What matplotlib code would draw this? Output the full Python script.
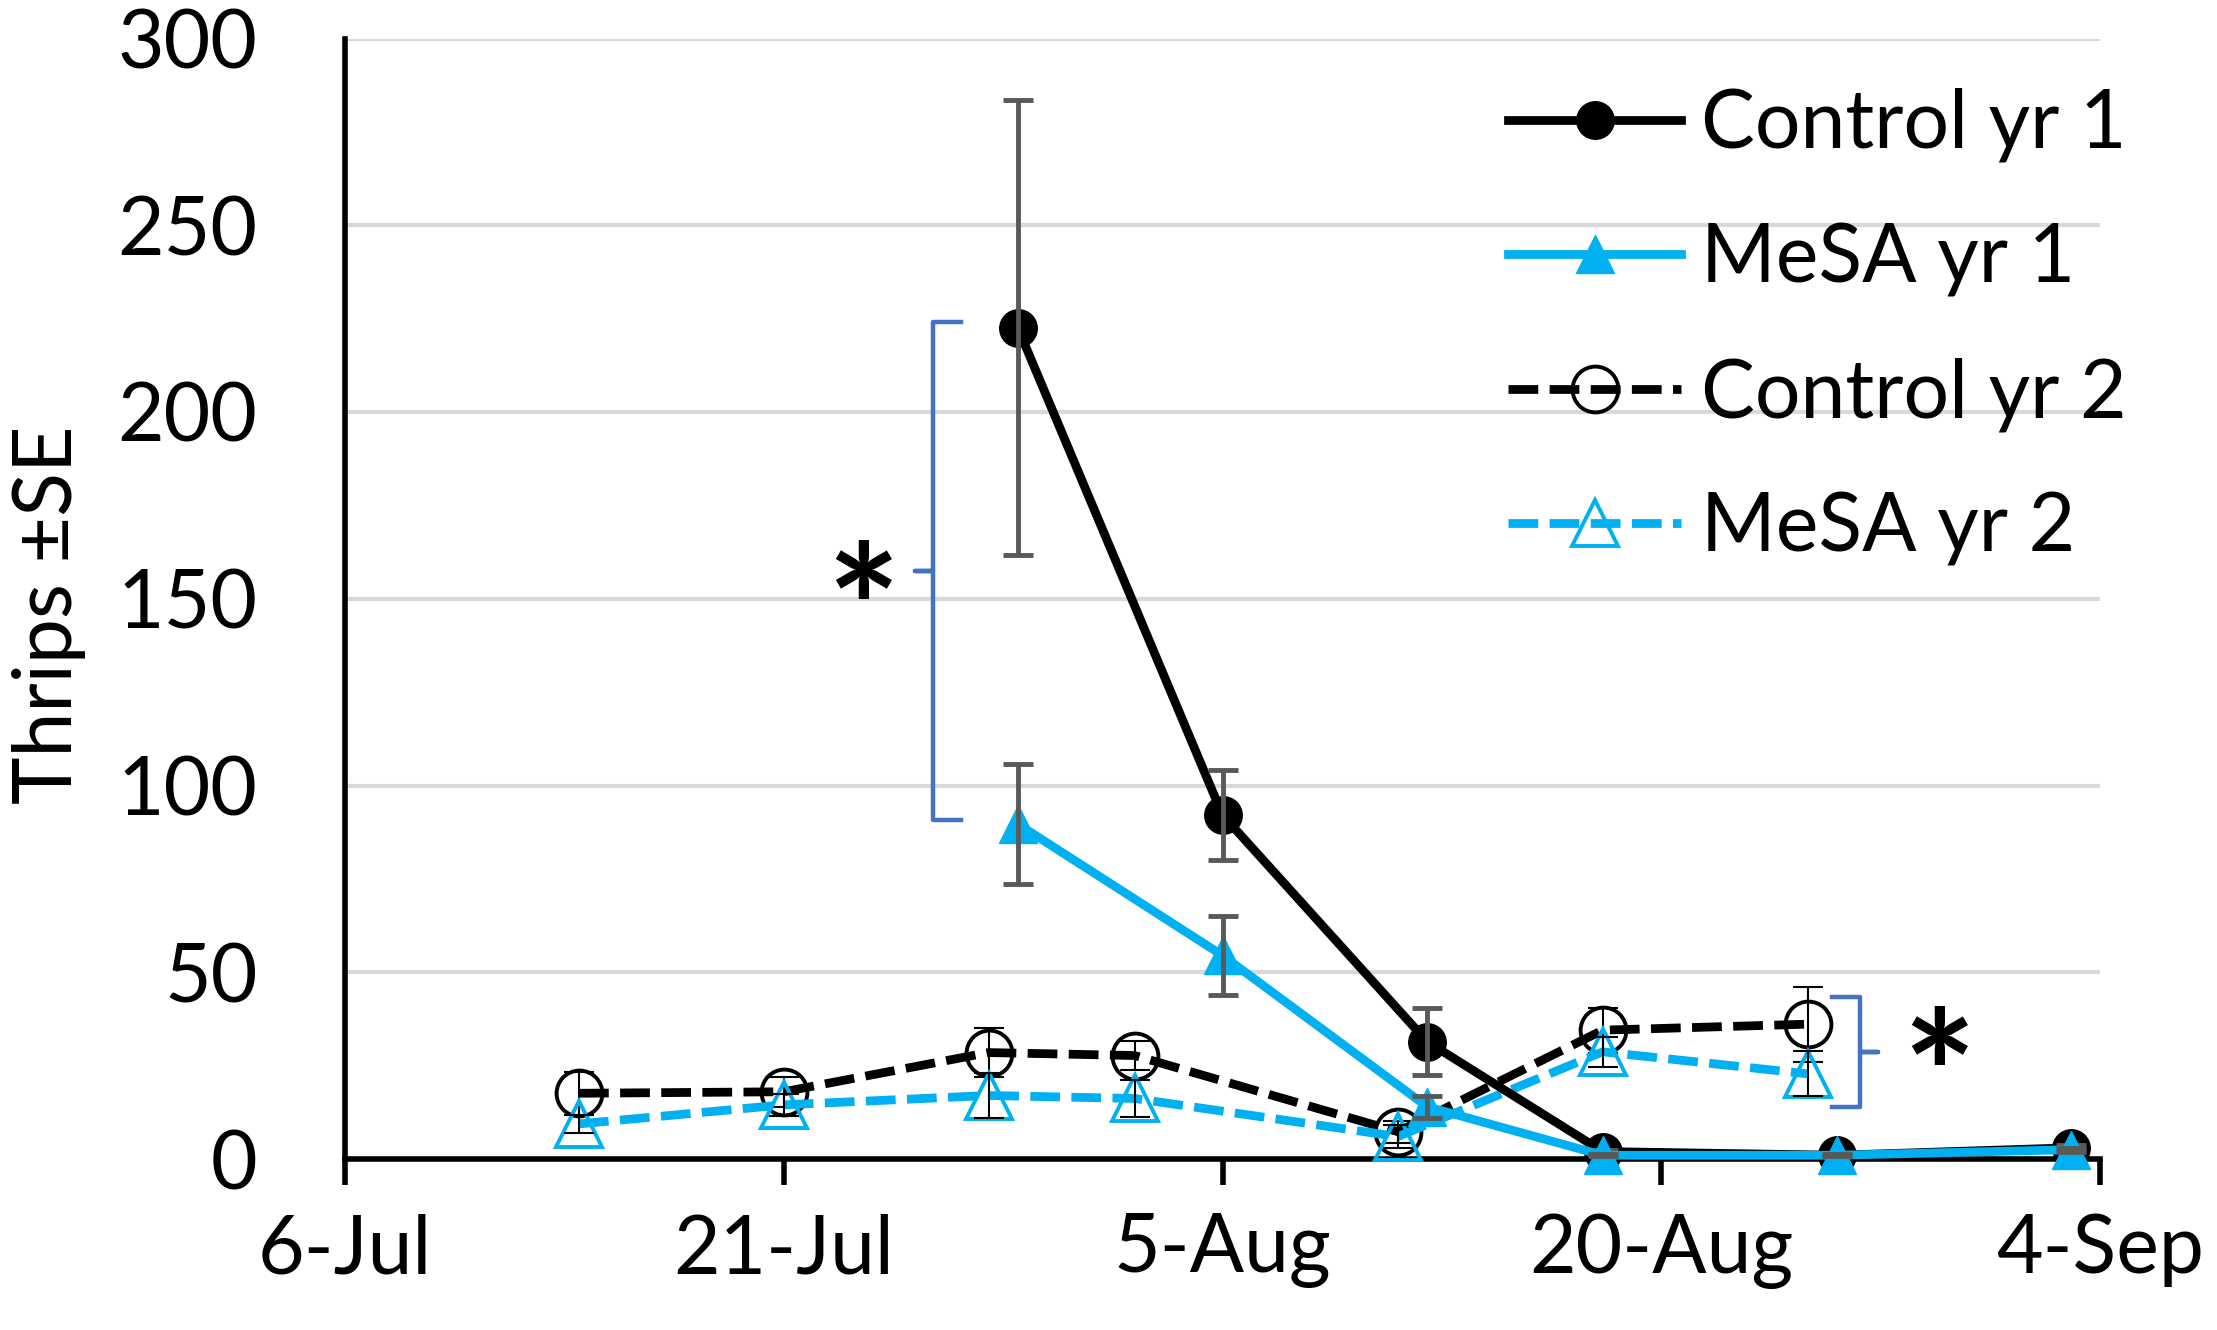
import numpy as np
import pandas as pd
import matplotlib
matplotlib.use("Agg")
import matplotlib.pyplot as plt
import matplotlib.dates as mdates

# sampling dates and thrips counts (mean and SE)
dates_yr1 = pd.to_datetime(["2019-07-29", "2019-08-05", "2019-08-12",
                            "2019-08-18", "2019-08-26", "2019-09-03"])
control_yr1 = [222.6, 92.1, 31.4, 2.0, 1.0, 3.0]
control_yr1_se = [61.0, 12.0, 9.0, 0.5, 0.3, 0.8]
mesa_yr1 = [89.7, 54.5, 14.0, 1.0, 1.0, 2.5]
mesa_yr1_se = [16.0, 10.5, 3.0, 0.3, 0.3, 0.5]

dates_yr2 = pd.to_datetime(["2019-07-14", "2019-07-21", "2019-07-28", "2019-08-02",
                            "2019-08-11", "2019-08-18", "2019-08-25"])
control_yr2 = [17.6, 18.0, 28.5, 27.7, 7.3, 34.5, 36.1]
control_yr2_se = [5.8, 4.0, 6.5, 4.0, 3.0, 6.0, 10.0]
mesa_yr2 = [9.4, 14.5, 17.0, 16.2, 6.0, 28.7, 22.8]
mesa_yr2_se = [2.5, 3.0, 6.0, 5.0, 3.0, 4.0, 6.0]

tick_dates = pd.to_datetime(["2019-07-06", "2019-07-21", "2019-08-05",
                             "2019-08-20", "2019-09-04"])
tick_labels = ["6-Jul", "21-Jul", "5-Aug", "20-Aug", "4-Sep"]
y_ticks = [0, 50, 100, 150, 200, 250, 300]

# significance brackets: days after 6-Jul, y span, side of the tip
bracket_days = [20.1, 51.8]
bracket_lo = [90.8, 14.0]
bracket_hi = [224.1, 43.4]
bracket_side = [-1, 1]
star_days = [17.7, 54.5]
star_y = [157.3, 32.5]

BLUE = "#00B0F0"
BRACKET = "#4472C4"
ERR_GREY = "#595959"
FONT = ["Lato", "DejaVu Sans"]
FS = 58

plt.rcParams["font.family"] = FONT
plt.rcParams["font.size"] = FS

fig = plt.figure(figsize=(22.17, 13.30), dpi=100)
ax = fig.add_axes([345 / 2217, 1 - 1159 / 1330, 1755 / 2217, 1120.5 / 1330])

lw = 6.3
dash = (3.4, 1.3)

# error bars
ax.errorbar(dates_yr2, control_yr2, yerr=control_yr2_se, fmt="none", ecolor="black",
            elinewidth=1.5, capsize=11, capthick=1.5, zorder=3.5, clip_on=False)
ax.errorbar(dates_yr2, mesa_yr2, yerr=mesa_yr2_se, fmt="none", ecolor="black",
            elinewidth=1.5, capsize=11, capthick=1.5, zorder=4.5, clip_on=False)
ax.errorbar(dates_yr1, control_yr1, yerr=control_yr1_se, fmt="none", ecolor=ERR_GREY,
            elinewidth=3.5, capsize=11, capthick=3.5, zorder=5.5, clip_on=False)
ax.errorbar(dates_yr1, mesa_yr1, yerr=mesa_yr1_se, fmt="none", ecolor=ERR_GREY,
            elinewidth=3.5, capsize=11, capthick=3.5, zorder=6.5, clip_on=False)

h_c2, = ax.plot(dates_yr2, control_yr2, color="black", lw=lw, dashes=dash,
                marker="o", ms=33, mfc="none", mec="black", mew=2.8,
                label="Control yr 2", zorder=3, clip_on=False)
h_m2, = ax.plot(dates_yr2, mesa_yr2, color=BLUE, lw=lw, dashes=dash,
                marker="^", ms=33, mfc="none", mec=BLUE, mew=2.8,
                label="MeSA yr 2", zorder=4, clip_on=False)
h_c1, = ax.plot(dates_yr1, control_yr1, color="black", lw=lw,
                marker="o", ms=27, mfc="black", mec="black",
                label="Control yr 1", zorder=5, clip_on=False)
h_m1, = ax.plot(dates_yr1, mesa_yr1, color=BLUE, lw=lw,
                marker="^", ms=27, mfc=BLUE, mec=BLUE,
                label="MeSA yr 1", zorder=6, clip_on=False)

x0 = mdates.date2num(tick_dates[0])
ax.set_xlim(x0, mdates.date2num(tick_dates[-1]))
ax.set_ylim(0, 300)
ax.set_xticks(mdates.date2num(tick_dates))
ax.set_xticklabels(tick_labels)
ax.set_yticks(y_ticks)

ax.grid(axis="y", color="#D9D9D9", lw=3)
ax.set_axisbelow(True)
for side in ["top", "right"]:
    ax.spines[side].set_visible(False)
for side in ["left", "bottom"]:
    ax.spines[side].set_linewidth(4)
ax.tick_params(axis="y", length=0, pad=63, labelsize=FS)
ax.tick_params(axis="x", direction="out", length=19, width=4, pad=20, labelsize=FS)

ax.set_ylabel("Thrips \u00b1SE", fontsize=FS)
ax.yaxis.label.set_verticalalignment("center")
ax.yaxis.set_label_coords(-0.1685, 0.4855)

# brackets with the stars
for d, lo, hi, side in zip(bracket_days, bracket_lo, bracket_hi, bracket_side):
    xv = x0 + d
    arm = 0.95 * -side
    tip = 0.6 * side
    mid = (lo + hi) / 2
    xs = [xv + arm, xv, xv, xv + tip, xv, xv, xv + arm]
    ys = [hi, hi, mid, mid, mid, lo, lo]
    ax.plot(xs, ys, color=BRACKET, lw=3.2, solid_joinstyle="round", zorder=2,
            clip_on=False)
for d, y in zip(star_days, star_y):
    ax.annotate("*", (x0 + d, y), xytext=(0, -36), textcoords="offset points",
                fontsize=125, fontweight="bold", ha="center", va="center", zorder=7)

ax.legend(handles=[h_c1, h_m1, h_c2, h_m2], loc="upper left",
          bbox_to_anchor=(1508 / 2217, 1 - 88 / 1330), bbox_transform=fig.transFigure,
          frameon=False, borderpad=0, borderaxespad=0, handlelength=2.15,
          handletextpad=0.24, labelspacing=0.745, fontsize=FS)

fig.savefig("out.png", dpi=100)
